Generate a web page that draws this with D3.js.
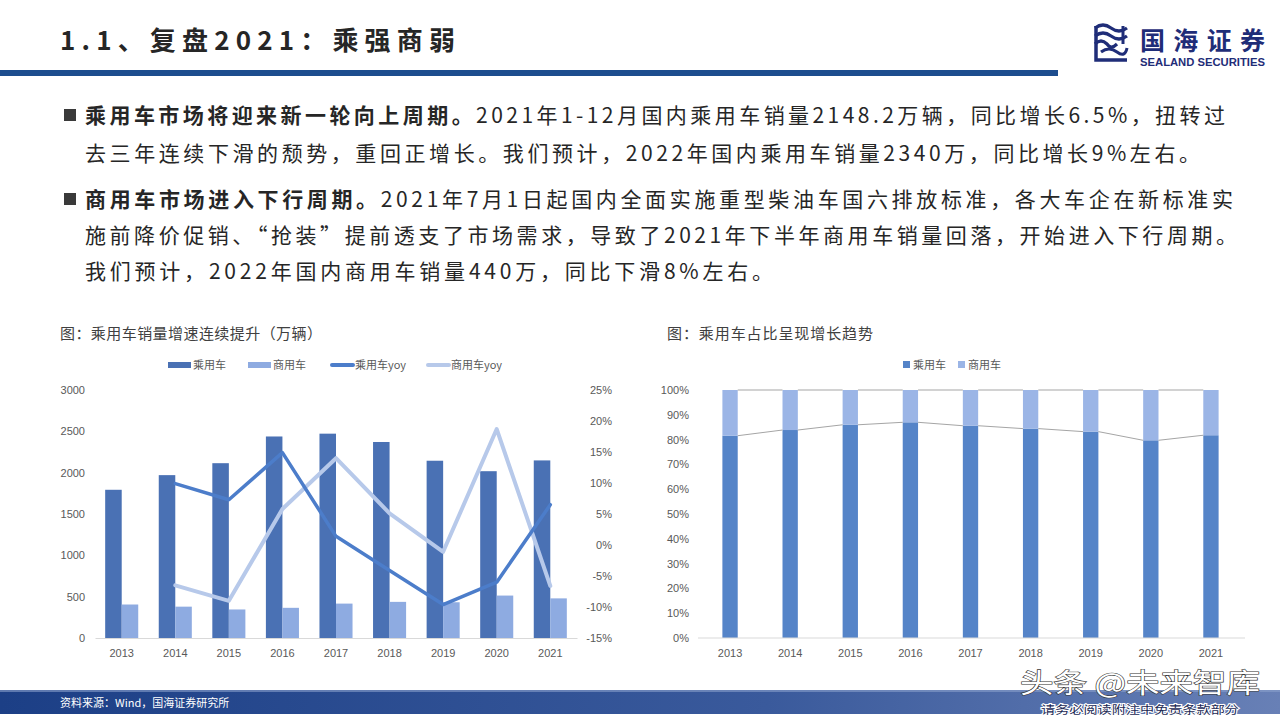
<!DOCTYPE html>
<html><head><meta charset="utf-8">
<script src="https://cdn.jsdelivr.net/npm/d3@7/dist/d3.min.js"></script>
<style>
html,body{margin:0;padding:0;background:#fff;}
svg{display:block;}
</style></head>
<body>
<svg id="c" width="1280" height="720"></svg>
<script>
// ---------- data ----------
const years = ['2013','2014','2015','2016','2017','2018','2019','2020','2021'];
const passenger = [1792.9,1970.1,2114.6,2437.7,2471.8,2371.0,2144.4,2017.8,2148.2];
const commercial = [405.2,379.1,345.1,365.1,416.1,437.1,432.4,513.3,479.3];
const passengerYoy = [null,9.9,7.3,14.9,1.4,-4.1,-9.6,-6.0,6.5];
const commercialYoy = [null,-6.5,-9.0,5.8,14.0,5.1,-1.1,18.7,-6.6];
const leftTicks = [0,500,1000,1500,2000,2500,3000];
const rightTicks = [-15,-10,-5,0,5,10,15,20,25];
const shareTicks = [0,0.1,0.2,0.3,0.4,0.5,0.6,0.7,0.8,0.9,1];
const seriesNames = ['乘用车','商用车'];
const lineNames = ['乘用车yoy','商用车yoy'];

const svg = d3.select('#c');
const CJK = '"Noto Sans CJK SC","Noto Sans",sans-serif';
const LAT = '"Liberation Sans",Arial,sans-serif';

// ---------- header ----------
svg.append('text').attr('x',60).attr('y',50)
  .attr('font-family',CJK).attr('font-weight','bold').attr('font-size',26)
  .attr('fill','#262626').attr('textLength',395).attr('lengthAdjust','spacing')
  .text('1.1、复盘2021：乘强商弱');
svg.append('rect').attr('x',0).attr('y',70).attr('width',1058).attr('height',6).attr('fill','#1d4d8e');

// logo
const logo = svg.append('g').attr('transform','translate(1093,22)');
logo.append('path').attr('d','M2,6 Q10,0 18,6 T34,6').attr('fill','none').attr('stroke','#1f2d78').attr('stroke-width',3.2);
logo.append('path').attr('d','M2,14 Q10,8 18,14 T34,14').attr('fill','none').attr('stroke','#1f2d78').attr('stroke-width',3.2);
logo.append('path').attr('d','M2,22 Q8,16 14,22 Q18,28 24,22').attr('fill','none').attr('stroke','#1f2d78').attr('stroke-width',3.2);
logo.append('path').attr('d','M3,4 L3,38 L34,38').attr('fill','none').attr('stroke','#1f2d78').attr('stroke-width',3.5);
logo.append('path').attr('d','M8,30 Q16,24 24,30 T34,26').attr('fill','none').attr('stroke','#1f2d78').attr('stroke-width',3);
logo.append('path').attr('d','M30,4 L30,22').attr('fill','none').attr('stroke','#1f2d78').attr('stroke-width',3);
svg.append('text').attr('x',1140).attr('y',50).attr('font-family',CJK).attr('font-weight','bold')
  .attr('font-size',25).attr('fill','#1f2d78').attr('textLength',125).attr('lengthAdjust','spacing').text('国海证券');
svg.append('text').attr('x',1140).attr('y',66).attr('font-family',LAT).attr('font-weight','bold')
  .attr('font-size',10.5).attr('fill','#1f2d78').attr('textLength',125).attr('lengthAdjust','spacingAndGlyphs').text('SEALAND SECURITIES');

// ---------- body text ----------
const lines = [
  {y:123, bullet:true, bold:'乘用车市场将迎来新一轮向上周期。', rest:'2021年1-12月国内乘用车销量2148.2万辆，同比增长6.5%，扭转过', w:1140},
  {y:161, bullet:false, bold:'', rest:'去三年连续下滑的颓势，重回正增长。我们预计，2022年国内乘用车销量2340万，同比增长9%左右。', w:1115},
  {y:207, bullet:true, bold:'商用车市场进入下行周期。', rest:'2021年7月1日起国内全面实施重型柴油车国六排放标准，各大车企在新标准实', w:1148},
  {y:243, bullet:false, bold:'', rest:'施前降价促销、“抢装”提前透支了市场需求，导致了2021年下半年商用车销量回落，开始进入下行周期。', w:1152},
  {y:279, bullet:false, bold:'', rest:'我们预计，2022年国内商用车销量440万，同比下滑8%左右。', w:688}
];
lines.forEach(l=>{
  if(l.bullet) svg.append('rect').attr('x',64).attr('y',l.y-14).attr('width',12).attr('height',12).attr('fill','#3a3a3a');
  const t = svg.append('text').attr('x',85).attr('y',l.y).attr('font-family',CJK)
    .attr('font-size',21).attr('fill','#262626');
  t.attr('textLength',l.w).attr('lengthAdjust','spacing');
  if(l.bold) t.append('tspan').attr('font-weight','bold').text(l.bold);
  t.append('tspan').text(l.rest);
});

// ---------- chart titles ----------
svg.append('text').attr('x',60).attr('y',339).attr('font-family',CJK).attr('font-size',15).attr('fill','#404040')
  .attr('textLength',262).attr('lengthAdjust','spacing').text('图：乘用车销量增速连续提升（万辆）');
svg.append('text').attr('x',667).attr('y',339).attr('font-family',CJK).attr('font-size',15).attr('fill','#404040')
  .attr('textLength',206).attr('lengthAdjust','spacing').text('图：乘用车占比呈现增长趋势');

// ---------- left chart ----------
const L = {x0:95, x1:577, top:390, bottom:638};
const x0 = d3.scaleBand(years,[L.x0,L.x1]).paddingInner(0.383).paddingOuter(0.19);
const x1 = d3.scaleBand(seriesNames,[0,x0.bandwidth()]);
const yL = d3.scaleLinear([0,3000],[L.bottom,L.top]);
const yR = d3.scaleLinear([-15,25],[L.bottom,L.top]);
const barColors = {'乘用车':'#4a71b4','商用车':'#8eabe1'};
const lineColors = {'乘用车yoy':'#4c7dca','商用车yoy':'#b7c9ea'};

const gL = svg.append('g');
const barData = years.map((y,i)=>({year:y, vals:[{k:'乘用车',v:passenger[i]},{k:'商用车',v:commercial[i]}]}));
gL.selectAll('g.grp').data(barData).join('g').attr('class','grp')
  .attr('transform',d=>`translate(${x0(d.year)},0)`)
  .selectAll('rect').data(d=>d.vals).join('rect')
  .attr('x',d=>x1(d.k)).attr('width',x1.bandwidth())
  .attr('y',d=>yL(d.v)).attr('height',d=>yL(0)-yL(d.v)).attr('fill',d=>barColors[d.k]);

const axB = gL.append('g').attr('transform',`translate(0,${L.bottom})`)
  .call(d3.axisBottom(x0).tickSize(0).tickPadding(11).tickSizeOuter(0));
axB.select('.domain').attr('stroke','#d9d9d9').attr('stroke-width',1.2);
axB.selectAll('text').attr('font-family',LAT).attr('font-size',11).attr('fill','#595959');

const axLy = gL.append('g').attr('transform',`translate(${L.x0},0)`)
  .call(d3.axisLeft(yL).tickValues(leftTicks).tickSize(0).tickPadding(10).tickFormat(d3.format('d')));
axLy.select('.domain').remove();
axLy.selectAll('text').attr('font-family',LAT).attr('font-size',11).attr('fill','#595959');

const axRy = gL.append('g').attr('transform',`translate(${L.x1},0)`)
  .call(d3.axisRight(yR).tickValues(rightTicks).tickSize(0).tickPadding(35).tickFormat(d=>d+'%'));
axRy.select('.domain').remove();
axRy.selectAll('text').attr('text-anchor','end').attr('font-family',LAT).attr('font-size',11).attr('fill','#595959');

const lineGen = d3.line().defined(d=>d.v!==null)
  .x(d=>x0(d.year)+x0.bandwidth()/2).y(d=>yR(d.v));
[['商用车yoy',commercialYoy,4],['乘用车yoy',passengerYoy,3.5]].forEach(([name,arr,w])=>{
  gL.append('path').datum(years.map((y,i)=>({year:y,v:arr[i]})))
    .attr('d',lineGen).attr('fill','none').attr('stroke',lineColors[name])
    .attr('stroke-width',w).attr('stroke-linejoin','round').attr('stroke-linecap','round');
});

// legend left
const legL = svg.append('g').attr('font-family',CJK).attr('font-size',11).attr('fill','#595959');
const legItems = [
  {name:'乘用车',type:'bar',x:168},
  {name:'商用车',type:'bar',x:248},
  {name:'乘用车yoy',type:'line',x:330},
  {name:'商用车yoy',type:'line',x:426}
];
legItems.forEach(it=>{
  if(it.type==='bar') legL.append('rect').attr('x',it.x).attr('y',362).attr('width',23).attr('height',6).attr('fill',barColors[it.name]);
  else legL.append('line').attr('x1',it.x+2).attr('x2',it.x+23).attr('y1',365).attr('y2',365)
     .attr('stroke',lineColors[it.name]).attr('stroke-width',4).attr('stroke-linecap','round');
  legL.append('text').attr('x',it.x+25).attr('y',369).text(it.name);
});

// ---------- right chart ----------
const R = {x0:700, x1:1241, top:390, bottom:638};
const xs = d3.scaleBand(years,[R.x0,R.x1]).paddingInner(0.745).paddingOuter(0.3725);
const ys = d3.scaleLinear([0,1],[R.bottom,R.top]);
const shareColors = {'乘用车':'#5584c8','商用车':'#9bb5e6'};
const table = years.map((y,i)=>({year:y,'乘用车':passenger[i],'商用车':commercial[i]}));
const stacked = d3.stack().keys(seriesNames).offset(d3.stackOffsetExpand)(table);
const gR = svg.append('g');
gR.selectAll('g.s').data(stacked).join('g').attr('class','s').attr('fill',d=>shareColors[d.key])
  .selectAll('rect').data(d=>d).join('rect')
  .attr('x',d=>xs(d.data.year)).attr('width',xs.bandwidth())
  .attr('y',d=>ys(d[1])).attr('height',d=>ys(d[0])-ys(d[1]));
stacked.forEach(s=>{
  for(let i=0;i<s.length-1;i++){
    gR.append('line')
      .attr('x1',xs(years[i])+xs.bandwidth()).attr('y1',ys(s[i][1]))
      .attr('x2',xs(years[i+1])).attr('y2',ys(s[i+1][1]))
      .attr('stroke','#a5a5a5').attr('stroke-width',1);
  }
});
const axRB = gR.append('g').attr('transform',`translate(0,${R.bottom})`)
  .call(d3.axisBottom(xs).tickSize(0).tickPadding(11).tickSizeOuter(0));
axRB.select('.domain').attr('stroke','#d9d9d9').attr('stroke-width',1.2).attr('d',`M${R.x0-2},0H${R.x1+4}`);
axRB.selectAll('text').attr('font-family',LAT).attr('font-size',11).attr('fill','#595959');
const axRL = gR.append('g').attr('transform',`translate(${R.x0},0)`)
  .call(d3.axisLeft(ys).tickValues(shareTicks).tickSize(0).tickPadding(11).tickFormat(d3.format('.0%')));
axRL.select('.domain').remove();
axRL.selectAll('text').attr('font-family',LAT).attr('font-size',11).attr('fill','#595959');

const legR = svg.append('g').attr('font-family',CJK).attr('font-size',11).attr('fill','#595959');
[{name:'乘用车',x:903},{name:'商用车',x:958}].forEach(it=>{
  legR.append('rect').attr('x',it.x).attr('y',361).attr('width',7).attr('height',7).attr('fill',shareColors[it.name]);
  legR.append('text').attr('x',it.x+10).attr('y',369).text(it.name);
});

// ---------- footer ----------
const defs = svg.append('defs');
const grad = defs.append('linearGradient').attr('id','fg').attr('x1','0').attr('x2','1').attr('y1','0').attr('y2','0');
grad.append('stop').attr('offset','0').attr('stop-color','#1c3f86');
grad.append('stop').attr('offset','0.6').attr('stop-color','#3a5a9c');
grad.append('stop').attr('offset','1').attr('stop-color','#6880b6');
svg.append('rect').attr('x',0).attr('y',690).attr('width',1280).attr('height',24).attr('fill','url(#fg)');
svg.append('rect').attr('x',0).attr('y',690).attr('width',1280).attr('height',2).attr('fill','#8aa0cc').attr('opacity',0.6);
svg.append('text').attr('x',60).attr('y',707).attr('font-family',CJK).attr('font-size',11).attr('fill','#ffffff')
  .text('资料来源：Wind，国海证券研究所');
svg.append('text').attr('x',1020).attr('y',693).attr('font-family',CJK).attr('font-size',27)
  .attr('fill','#ffffff').attr('stroke','#333333').attr('stroke-width',1.2).attr('paint-order','stroke')
  .attr('textLength',240).attr('lengthAdjust','spacingAndGlyphs').text('头条 @未来智库');
svg.append('text').attr('x',1041).attr('y',714).attr('font-family',CJK).attr('font-size',11.5)
  .attr('fill','#1c2a55').attr('stroke','#ffffff').attr('stroke-width',2).attr('paint-order','stroke')
  .attr('textLength',198).attr('lengthAdjust','spacingAndGlyphs').text('请务必阅读附注中免责条款部分');
</script>
</body></html>
